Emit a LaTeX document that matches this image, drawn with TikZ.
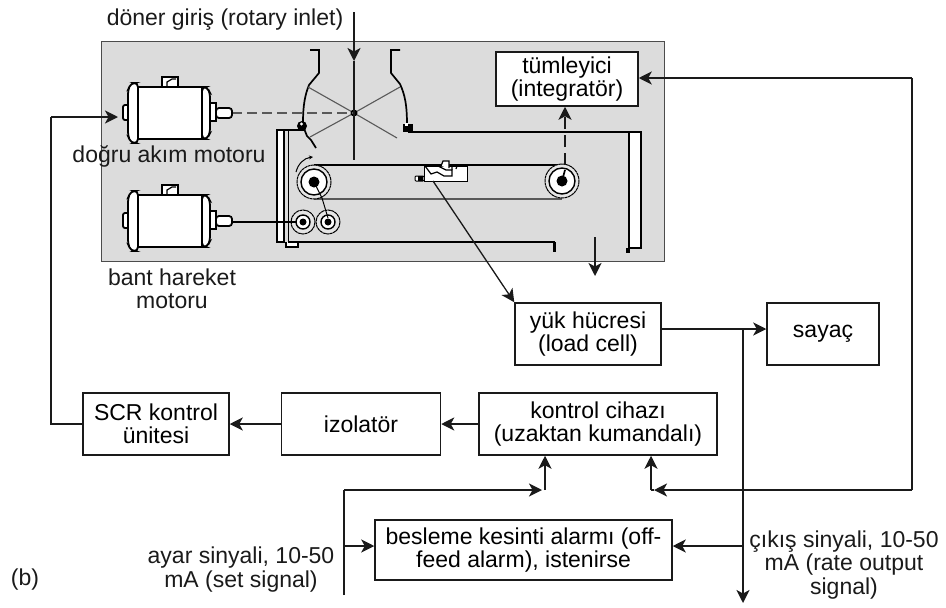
\documentclass[tikz,border=0pt]{standalone}
\usepackage{fontspec}
\setmainfont{Liberation Sans}
\usetikzlibrary{arrows.meta,calc}
\definecolor{panel}{HTML}{DCDCDC}
\definecolor{ink}{HTML}{1A1A1A}
\tikzset{
  box/.style={draw=ink,fill=white,line width=1.5pt,inner sep=0pt,align=center,font=\fontsize{23}{23.4}\selectfont},
  lbl/.style={inner sep=0pt,align=center,font=\fontsize{23}{23.4}\selectfont,text=ink},
  wire/.style={draw=ink,line width=1.5pt},
  arr/.style={wire,-{Stealth[length=13pt,width=13pt,inset=3.5pt]}},
  thick part/.style={draw=black,line width=1.7pt},
  thin part/.style={draw=black!65,line width=1.1pt},
  motorpart/.style={draw=black,fill=white,line width=1.8pt},
}
\newcommand{\motor}[1]{%
  \begin{scope}[yshift=#1]
    \draw[motorpart] (162,87) -- (162,77) -- (178,77) -- (178,87);
    \draw[black,line width=1.2pt] (167,86) -- (167,82) -- (172,79) -- (176,79);
    \draw[motorpart,rounded corners=2pt] (128,105) -- (123,105) -- (123,120) -- (128,120);
    \draw[motorpart,rounded corners=4pt] (138,83) -- (131,83) -- (128,90) -- (128,136) -- (131,143) -- (138,143) -- cycle;
    \draw[motorpart,rounded corners=4pt] (202,87) -- (207,87) -- (210,93) -- (210,133) -- (207,139) -- (202,139) -- cycle;
    \draw[motorpart] (138,87) rectangle (202,139);
    \draw[motorpart] (210,103) rectangle (216,121);
    \draw[motorpart,rounded corners=3pt] (216,108) -- (232,108) -- (232,118) -- (216,118) -- cycle;
  \end{scope}}
\newcommand{\pulley}[4]{%
  \draw[draw=black,fill=white!90!black,line width=1pt,dash pattern=on 3pt off .5pt] (#1,#2) circle (#3);
  \draw[draw=black,fill=white,line width=1.4pt] (#1,#2) circle (#4);
}
\begin{document}
\begin{tikzpicture}[x=1pt,y=-1pt]
\useasboundingbox (0,0) rectangle (946,608);
% panel
\fill[panel,draw=black!70,line width=1pt] (101,41) rectangle (664,261);
% walls
\draw[thick part,fill=white] (277,242) -- (277,130) -- (284,130) -- (284,242) -- cycle;
\draw[thick part] (284,130) -- (305,130);
\draw[thick part,line width=1.2pt,fill=white] (286,242) -- (286,247) -- (298,247) -- (298,242);
\draw[thick part] (288.5,130) -- (288.5,242) -- (555,242);
\fill (553,242) rectangle (556,252);
\draw[thick part,fill=white] (629,132) -- (641,132) -- (641,248) -- (629,248) -- cycle;
\draw[thick part] (408,132) -- (641,132);
\fill (626,248) rectangle (630,253);
% chutes
\draw[thick part] (310,50) -- (319,50) -- (319,73) -- (309,85) .. controls (305,95) and (303,105) .. (303,123);
\draw[thick part] (303,126) -- (307,136) -- (311,140) -- (316,148);
\draw[thick part] (400,50) -- (391,50) -- (391,73) -- (400,84) .. controls (405,95) and (407,105) .. (407,125);
\fill (302,126) circle (5);
\fill[white] (301.5,124) circle (1.6);
\fill (403,124) rectangle (413,132);
\fill[white] (405,123) rectangle (408,126);
% rotor spokes
\coordinate (hub) at (354,113);
\draw[thin part] (hub) -- (308,87);
\draw[thin part] (hub) -- (310,137);
\draw[thin part] (hub) -- (400,87);
\draw[thin part] (hub) -- (397,138);
\fill (hub) circle (3.5);
\draw[thin part,dash pattern=on 10pt off 5pt] (232,113) -- (hub);
% belt
\draw[thick part] (314,165) -- (562,165);
\draw[thin part] (314,199) -- (562,199);
% pulleys
\pulley{314}{182}{17}{13}
\fill (314,182) circle (5.5);
\pulley{562}{181}{17}{13}
\fill (562,181) circle (5.5);
\draw[thick part] (562,181) -- (565,170);
\pulley{303}{222}{12}{7}
\fill (303,222) circle (3.5);
\pulley{328}{222}{12}{7}
\fill (328,222) circle (3.5);
\draw[black,line width=1pt] (316,186) -- (322,198) -- (328,218);
% rotation arrow
\draw[black,line width=1pt,-{Stealth[length=4pt,width=4pt]}] (296,172) .. controls (298,164) and (304,158) .. (313,157);
% motors
\motor{0pt}
\motor{-108pt}
\draw[black,line width=1.2pt] (232,222) -- (297,222);
% load cell
\node[draw=black,fill=white,line width=1pt,minimum width=43pt,minimum height=15pt,inner sep=0pt] (cell) at (445.5,173.5) {};
\draw[black,line width=1pt,fill=white,rounded corners=1pt] (415,176) rectangle (424,181);
\fill (418,176) rectangle (423,181);
\draw[black,line width=1.2pt] (425,166) -- (431,174) -- (437,172) -- (444,176) -- (452,176) -- (452,170) -- (446,170) -- (438,166);
\draw[black,line width=1.2pt,fill=white] (441,166) -- (443,161) -- (449,161) -- (449,168);
\draw[black,line width=1.2pt] (452,170) -- (452,166) (456,169) -- (457,166);
\draw[thick part] (405,165) -- (425,165);
% nodes
\node[box,minimum width=142pt,minimum height=54pt] (int) at (567,79) {tümleyici\\(integratör)};
\node[lbl,anchor=center] (rot) at (225,20) {döner giriş (rotary inlet)};
\node[lbl] (dcm) at (169,156) {doğru akım motoru};
\node[lbl] (band) at (172,288.5) {bant hareket\\motoru};
\node[box,minimum width=146pt,minimum height=62pt] (yuk) at (588,334) {yük hücresi\\(load cell)};
\node[box,minimum width=112pt,minimum height=62pt] (say) at (823,334) {sayaç};
\node[box,minimum width=238pt,minimum height=62pt] (kon) at (598,424) {kontrol cihazı\\(uzaktan kumandalı)};
\node[box,minimum width=159pt,minimum height=62pt] (izo) at (361,424) {izolatör};
\node[box,minimum width=146pt,minimum height=62pt] (scr) at (156,424) {SCR kontrol\\ünitesi};
\node[box,minimum width=297pt,minimum height=60pt] (ala) at (523.5,550) {besleme kesinti alarmı (off-\\feed alarm), istenirse};
\node[lbl] (ayar) at (241,569.5) {ayar sinyali, 10-50\\mA (set signal)};
\node[lbl] (cik) at (844,565) {çıkış sinyali, 10-50\\mA (rate output\\signal)};
\node[lbl] (bb) at (25,580) {(b)};
% free ends
\coordinate (rotin) at (354,12);
\coordinate (rotmid) at (354,61);
\coordinate (rotend) at (354,160);
\coordinate (discha) at (595,237);
\coordinate (dischb) at (595,276);
\coordinate (setb) at (344,595);
\coordinate (sett) at (344,490);
\coordinate (setj) at (545,490);
\coordinate (retj) at (651,490);
\coordinate (retr) at (912,490);
\coordinate (retu) at (912,78);
\coordinate (outj) at (743,329);
\coordinate (outb) at (743,603);
\coordinate (scrl) at (51,424);
\coordinate (scru) at (51,117);
\coordinate (motin) at (118,117);
\coordinate (celll) at (433,181);
\coordinate (altj) at (743,546);
\coordinate (setal) at (344,546);
\coordinate (belt) at (565,165);
% connectors
\draw[arr] (rotin) -- (rotmid);
\draw[wire] (rotmid) -- (rotend);
\draw[arr] (discha) -- (dischb);
\draw[arr,line width=1.3pt] (celll) -- (yuk.north west);
\draw[arr,dash pattern=on 12pt off 6pt,line width=2.2pt] (belt) -- (int.south -| belt);
\draw[arr] (retu) -- (int.east |- retu);
\draw[wire] (retu) -- (retr);
\draw[arr] (retr) -- (654,490);
\draw[wire] (654,490) -- (retj);
\draw[arr] (retj) -- (kon.south -| retj);
\draw[arr] (sett) -- (542,490);
\draw[arr] (setj) -- (kon.south -| setj);
\draw[wire] (setb) -- (sett);
\draw[arr] (setal) -- (ala.west |- setal);
\draw[arr] ([yshift=5pt]yuk.east) -- ([yshift=5pt]say.west);
\draw[arr] (outj) -- (outb);
\draw[arr] (altj) -- (ala.east |- altj);
\draw[arr] (kon.west) -- (izo.east);
\draw[arr] (izo.west) -- (scr.east);
\draw[wire] (scr.west) -- (scrl) -- (scru);
\draw[arr] (scru) -- (motin);
\end{tikzpicture}
\end{document}
